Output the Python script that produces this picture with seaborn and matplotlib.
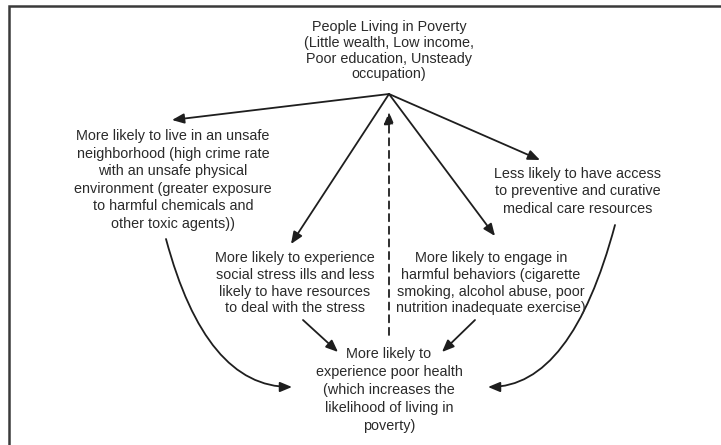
import matplotlib
matplotlib.use('Agg')
import matplotlib.pyplot as plt
import seaborn as sns
from matplotlib.patches import FancyArrowPatch

sns.set_style('white')
plt.rcParams['font.family'] = ['Liberation Sans', 'DejaVu Sans']

# Texto dos nós do diagrama
node_texts = [
    'People Living in Poverty\n(Little wealth, Low income,\nPoor education, Unsteady\noccupation)',
    'More likely to live in an unsafe\nneighborhood (high crime rate\nwith an unsafe physical\nenvironment (greater exposure\nto harmful chemicals and\nother toxic agents))',
    'More likely to experience\nsocial stress ills and less\nlikely to have resources\nto deal with the stress',
    'More likely to engage in\nharmful behaviors (cigarette\nsmoking, alcohol abuse, poor\nnutrition inadequate exercise)',
    'Less likely to have access\nto preventive and curative\nmedical care resources',
    'More likely to\nexperience poor health\n(which increases the\nlikelihood of living in\npoverty)',
]
# layout: centro x, centro y da 1a linha, passo entre linhas (pixels)
node_x = [389, 173, 295, 491, 578, 389]
node_y = [26, 135, 257, 257, 173, 353]
node_step = [15.8, 17.6, 16.8, 16.8, 17.5, 18.0]

# setas retas: (x0, y0, x1, y1, tracejada)
arrows = [
    (389, 94, 172, 120, False),
    (389, 94, 291, 244, False),
    (389, 94, 495, 236, False),
    (389, 94, 540, 160, False),
    (389, 335, 389, 112, True),
    (303, 320, 338, 352, False),
    (475, 320, 442, 352, False),
]
# setas curvas: (x0, y0, x1, y1, angleA, angleB)
curves = [
    (166, 239, 292, 387, -75, 0),
    (615, 225, 488, 387, -105, 0),
]

fig = plt.figure(figsize=(7.21, 4.45), dpi=100)
ax = fig.add_axes([0, 0, 1, 1])
ax.set_xlim(0, 721)
ax.set_ylim(445, 0)
ax.axis('off')

# moldura (só topo e esquerda aparecem)
ax.plot([9, 9, 721], [445, 6, 6], color='#3a3a3a', lw=1.8, solid_joinstyle='miter')

for txt, x, y, step in zip(node_texts, node_x, node_y, node_step):
    for i, linha in enumerate(txt.split('\n')):
        ax.text(x, y + i * step + 5, linha, ha='center', va='baseline',
                fontsize=10.4, color='#2a2a2a')

estilo = '-|>,head_length=0.6,head_width=0.25'
for x0, y0, x1, y1, dashed in arrows:
    ax.add_patch(FancyArrowPatch((x0, y0), (x1, y1), arrowstyle=estilo,
                                 mutation_scale=12, lw=1.3, color='#1e1e1e',
                                 linestyle=(0, (4, 3)) if dashed else '-',
                                 shrinkA=0, shrinkB=0))

for x0, y0, x1, y1, a, b in curves:
    ax.add_patch(FancyArrowPatch((x0, y0), (x1, y1), arrowstyle=estilo,
                                 connectionstyle=f'angle3,angleA={a},angleB={b}',
                                 mutation_scale=12, lw=1.3, color='#1e1e1e',
                                 shrinkA=0, shrinkB=0))

plt.savefig('out.png', dpi=100)
